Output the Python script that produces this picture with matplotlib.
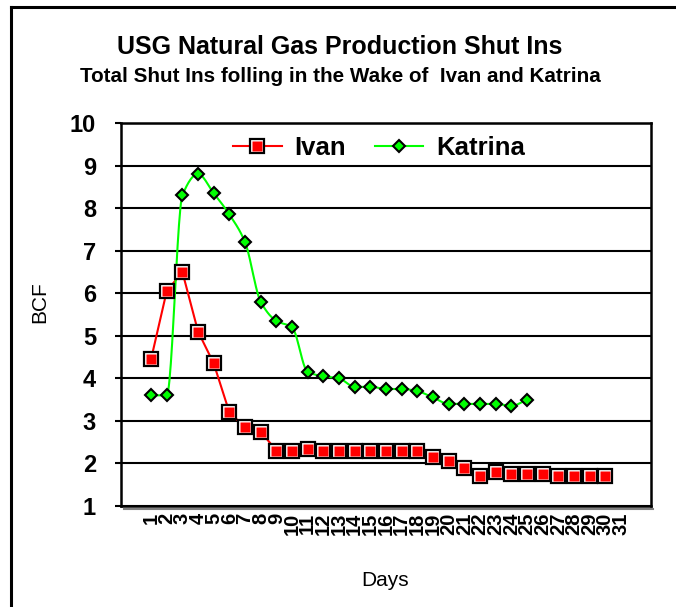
import numpy as np
import matplotlib
matplotlib.use("Agg")
import matplotlib.pyplot as plt
from matplotlib.lines import Line2D
from matplotlib.legend_handler import HandlerTuple

plt.rcParams['font.family'] = ['Liberation Sans', 'DejaVu Sans']

days = list(range(1, 32))
day_labels = [str(d) for d in days]
ivan = [4.45, 6.05, 6.5, 5.1, 4.35, 3.2, 2.85, 2.75, 2.3, 2.3,
        2.35, 2.3, 2.3, 2.3, 2.3, 2.3, 2.3, 2.3, 2.15, 2.05,
        1.9, 1.7, 1.8, 1.75, 1.75, 1.75, 1.7, 1.7, 1.7, 1.7]
katrina = [3.6, 3.6, 8.3, 8.8, 8.35, 7.85, 7.2, 5.8, 5.35, 5.2,
           4.15, 4.05, 4.0, 3.8, 3.8, 3.75, 3.75, 3.7, 3.55, 3.4,
           3.4, 3.4, 3.4, 3.35, 3.5]
yticks = list(range(1, 11))

W, H = 676, 607
fig = plt.figure(figsize=(W / 100, H / 100), dpi=100)
ax = fig.add_axes([121 / W, 1 - 506 / H, (651 - 121) / W, (506 - 123) / H])

RED = '#FF0000'
GREEN = '#00FF00'


def smooth(xs, ys, n=24):
    """Smoothed (monotone cubic Hermite) line drawn through the given points."""
    xs = np.asarray(xs, float)
    ys = np.asarray(ys, float)
    h = np.diff(xs)
    d = np.diff(ys) / h
    m = np.zeros_like(ys)
    m[0], m[-1] = d[0], d[-1]
    for i in range(1, len(ys) - 1):
        if d[i - 1] * d[i] <= 0:
            m[i] = 0.0
        else:
            m[i] = 2.0 / (1.0 / d[i - 1] + 1.0 / d[i])
    px, py = [xs[0]], [ys[0]]
    for i in range(len(xs) - 1):
        t = np.linspace(0, 1, n)[1:]
        h00 = 2 * t ** 3 - 3 * t ** 2 + 1
        h10 = t ** 3 - 2 * t ** 2 + t
        h01 = -2 * t ** 3 + 3 * t ** 2
        h11 = t ** 3 - t ** 2
        px.extend(xs[i] + t * h[i])
        py.extend(h00 * ys[i] + h10 * h[i] * m[i] + h01 * ys[i + 1] + h11 * h[i] * m[i + 1])
    return np.array(px), np.array(py)


ax.set_xlim(-0.92, 32.92)
ax.set_ylim(1, 10)
ax.set_yticks(yticks)
ax.yaxis.grid(True, color='black', lw=1.5)
ax.set_axisbelow(True)

xi = days[:len(ivan)]
xk = days[:len(katrina)]

# Ivan
ax.plot(xi, ivan, color=RED, lw=1.5, zorder=3)
ax.plot(xi, ivan, ls='none', marker='s', ms=9.6, mfc='white', mec='black', mew=1.6, zorder=4)
ax.plot(xi, ivan, ls='none', marker='s', ms=6.8, mfc=RED, mec='none', zorder=5)

# Katrina
sx, sy = smooth(xk, katrina)
ax.plot(sx, sy, color=GREEN, lw=1.5, zorder=3)
ax.plot(xk, katrina, ls='none', marker='D', ms=6.6, mfc=GREEN, mec='black', mew=1.5, zorder=6)

ax.set_xticks(days)
ax.set_xticklabels(day_labels, rotation=90, fontsize=14.5, fontweight='bold')
ax.tick_params(axis='x', length=0, pad=5)
ax.tick_params(axis='y', length=4, width=1.5, direction='out', pad=14,
               labelsize=17)
for lab in ax.get_yticklabels():
    lab.set_fontweight('bold')
for s in ax.spines.values():
    s.set_linewidth(1.8)

fig.text(40 / W, 1 - 302 / H, 'BCF', rotation=90, ha='center', va='center', fontsize=15)
fig.text(385 / W, 1 - 580 / H, 'Days', ha='center', va='center', fontsize=15)

# legend
h_ivan = (Line2D([], [], color=RED, lw=1.5, marker='s', ms=9.6, mfc='white', mec='black', mew=1.6),
          Line2D([], [], ls='none', marker='s', ms=6.8, mfc=RED, mec='none'))
h_kat = Line2D([], [], color=GREEN, lw=1.5, marker='D', ms=6.6, mfc=GREEN, mec='black', mew=1.5)
leg = ax.legend([h_ivan, h_kat], ['Ivan', 'Katrina'],
                handler_map={tuple: HandlerTuple(ndivide=1)},
                loc='center', bbox_to_anchor=(0.487, 0.935), ncol=2, frameon=False,
                prop={'weight': 'bold', 'size': 18.5}, handlelength=1.9, numpoints=1,
                columnspacing=1.1, handletextpad=0.5)

fig.text(0.503, 1 - 47 / H, 'USG Natural Gas Production Shut Ins',
         ha='center', va='center', fontsize=18, fontweight='bold')
fig.text(0.503, 1 - 77 / H, 'Total Shut Ins folling in the Wake of  Ivan and Katrina',
         ha='center', va='center', fontsize=14.9, fontweight='bold')

# outer border (left and top edges)
fig.add_artist(Line2D([11 / W, 11 / W], [0, 1 - 7 / H], color='black', lw=2.2, transform=fig.transFigure))
fig.add_artist(Line2D([11 / W, 1], [1 - 7 / H, 1 - 7 / H], color='black', lw=2.2, transform=fig.transFigure))
# plot area shadow
fig.add_artist(Line2D([124 / W, 653 / W], [1 - 508.5 / H, 1 - 508.5 / H], color='#808080', lw=1.5, transform=fig.transFigure))

fig.savefig('out.png', dpi=100)
